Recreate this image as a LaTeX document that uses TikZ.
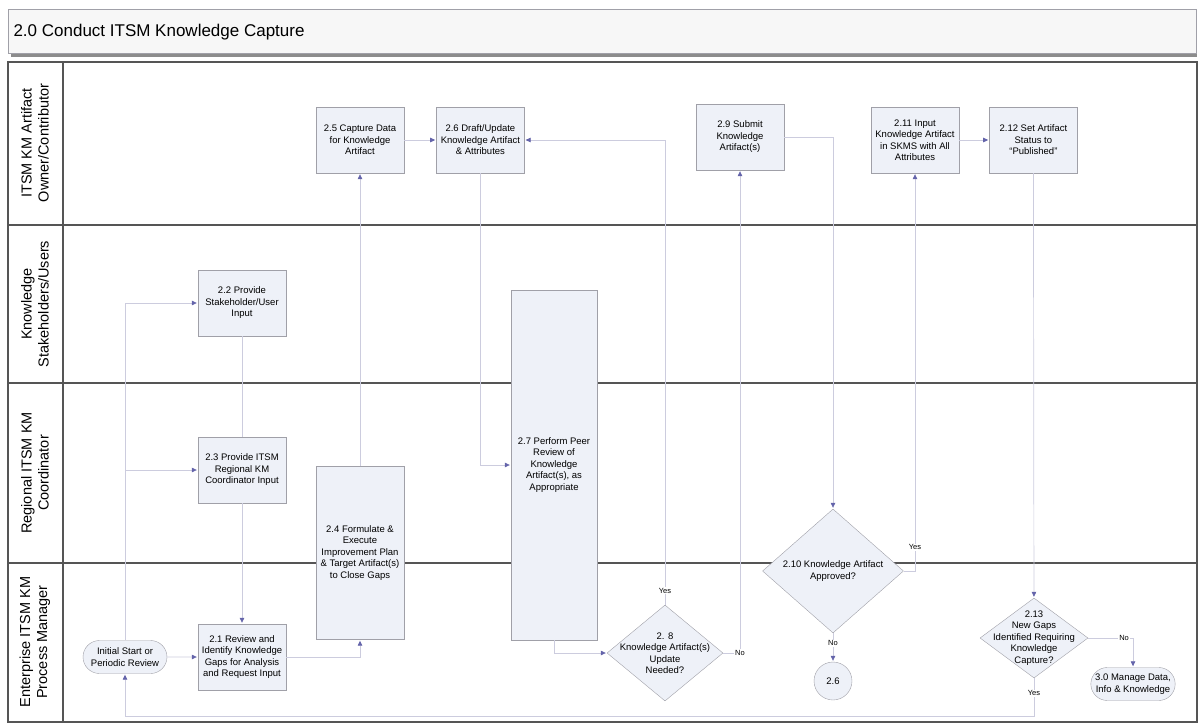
\documentclass[tikz,border=0pt]{standalone}
\usepackage{fontspec}
\setmainfont{Liberation Sans}
\usetikzlibrary{shapes.geometric, shapes.misc, arrows.meta, positioning}
\definecolor{boxfill}{RGB}{238,241,248}
\definecolor{boxline}{RGB}{160,160,168}
\definecolor{flowline}{RGB}{204,204,222}
\definecolor{tipblue}{RGB}{100,100,170}
\definecolor{laneline}{RGB}{85,85,85}
\definecolor{titlefill}{RGB}{247,247,247}
\definecolor{shadowgray}{RGB}{140,140,140}
\tikzset{
  task/.style={rectangle, draw=boxline, fill=boxfill,
               minimum width=88pt, minimum height=66pt, inner sep=1pt,
               align=center, font=\fontsize{9.5}{11.5}\selectfont},
  decision/.style={diamond, draw=boxline, fill=boxfill, inner sep=0pt},
  dtext/.style={align=center, font=\fontsize{9.5}{11.5}\selectfont},
  terminal/.style={rounded rectangle, draw=boxline, fill=boxfill,
                   minimum height=33pt, inner sep=1pt, align=center,
                   font=\fontsize{9.5}{11.5}\selectfont},
  offpage/.style={circle, draw=boxline, fill=boxfill, minimum size=38pt,
                  inner sep=0pt, font=\fontsize{9.5}{11.5}\selectfont},
  lanetitle/.style={rotate=90, align=center,
                    font=\fontsize{14.5}{17}\selectfont},
  flow/.style={draw=flowline, line width=0.7pt, shorten >=1pt,
               -{Triangle[length=5pt, width=4.5pt, color=tipblue]}},
  link/.style={draw=flowline, line width=0.7pt},
  lbl/.style={fill=white, inner sep=1pt, font=\fontsize{7.5}{9}\selectfont},
  lane/.style={draw=laneline, line width=1.5pt}
}

\begin{document}
\begin{tikzpicture}[x=1pt, y=-1pt]
  \useasboundingbox (0,0) rectangle (1200,723);

  % title bar
  \fill[shadowgray] (11,52) rectangle (1197,57);
  \draw[boxline, fill=titlefill] (8,9) rectangle (1196,53);
  \node[anchor=west, font=\fontsize{17}{20}\selectfont]
    (title) at (10,32) {2.0 Conduct ITSM Knowledge Capture};

  % swimlanes
  \draw[lane] (8,62) rectangle (1197,722);
  \draw[lane] (63,62) -- (63,722);
  \foreach \ly in {225,383,563}
    \draw[lane] (8,\ly) -- (1197,\ly);

  \node[lanetitle] (lane1) at (35,143) {ITSM KM Artifact\\Owner/Contributor};
  \node[lanetitle] (lane2) at (35,304) {Knowledge\\Stakeholders/Users};
  \node[lanetitle] (lane3) at (35,473) {Regional ITSM KM\\Coordinator};
  \node[lanetitle] (lane4) at (35,642) {Enterprise ITSM KM\\Process Manager};

  % process steps
  \node[terminal, minimum width=86pt] (start) at (125,657)
    {Initial Start or\\Periodic Review};
  \node[task] (p21) at (242,657)
    {2.1 Review and\\Identify Knowledge\\Gaps for Analysis\\and Request Input};
  \node[task] (p22) at (242,303) {2.2 Provide\\Stakeholder/User\\Input};
  \node[task] (p23) at (242,470)
    {2.3 Provide ITSM\\Regional KM\\Coordinator Input};
  \node[task, minimum height=173pt] (p24) at (360,553)
    {2.4 Formulate \&\\Execute\\Improvement Plan\\\& Target Artifact(s)\\to Close Gaps};
  \node[task] (p25) at (360,140) {2.5 Capture Data\\for Knowledge\\Artifact};
  \node[task, right=32pt of p25] (p26)
    {2.6 Draft/Update\\Knowledge Artifact\\\& Attributes};
  \node[task, minimum width=86pt, minimum height=350pt] (p27) at (554,465)
    {2.7 Perform Peer\\Review of\\Knowledge\\Artifact(s), as\\Appropriate};

  % 2.8 decision
  \node[decision, minimum width=116pt, minimum height=96pt] (d28) at (665,653) {};
  \node[dtext] (d28t) at (d28) {2. 8\\Knowledge Artifact(s)\\Update\\Needed?};

  \node[task] (p29) at (740,137) {2.9 Submit\\Knowledge\\Artifact(s)};

  % 2.10 decision
  \node[decision, minimum width=141pt, minimum height=124pt] (d210) at (833,571) {};
  \node[dtext] (d210t) at (d210) {2.10 Knowledge Artifact\\Approved?};
  \node[offpage] (c26) at (833,681) {2.6};

  \node[task] (p211) at (915,140)
    {2.11 Input\\Knowledge Artifact\\in SKMS with All\\Attributes};
  \node[task, right=30pt of p211] (p212)
    {2.12 Set Artifact\\Status to\\``Published''};

  % 2.13 decision
  \node[decision, minimum width=108pt, minimum height=80pt] (d213) at (1034,638) {};
  \node[dtext] (d213t) at (d213)
    {2.13\\New Gaps\\Identified Requiring\\Knowledge\\Capture?};
  \node[terminal, minimum width=84pt] (p30) at (1133,684)
    {3.0 Manage Data,\\Info \& Knowledge};
  \coordinate (loop) at (1034,716);

  % connectors
  \draw[flow] (start) -- (p21);
  \draw[flow] (start.north) |- (p22);
  \draw[flow] (start.north) |- (p23);
  \draw[link] (p22) -- (p23);
  \draw[flow] (p23) -- (p21);
  \draw[flow] (p21) -| (p24);
  \draw[flow] (p24) -- (p25);
  \draw[flow] (p25) -- (p26);
  \draw[flow] (p26) |- (p27);
  \draw[flow] (p27) |- (d28);
  \draw[flow] (d28.north) |- node[lbl, pos=0.015] (y28) {Yes} (p26);
  \draw[flow] (d28.east) -| node[lbl, pos=0.5] (n28) {No} (p29);
  \draw[flow] (p29) -| (d210);
  \draw[flow] (d210.east) -| node[lbl, pos=0.53] (y210) {Yes} (p211);
  \draw[flow] (d210) -- node[lbl, pos=0.35] (n210) {No} (c26);
  \draw[flow] (p211) -- (p212);
  \draw[flow] (p212) -- (d213);
  \draw[flow] (d213.east) -| node[lbl, pos=0.4] (n213) {No} (p30);
  \draw[flow] (d213.south) -- node[lbl, pos=0.4] (y213) {Yes} (loop)
    -| (start.south);

\end{tikzpicture}
\end{document}
